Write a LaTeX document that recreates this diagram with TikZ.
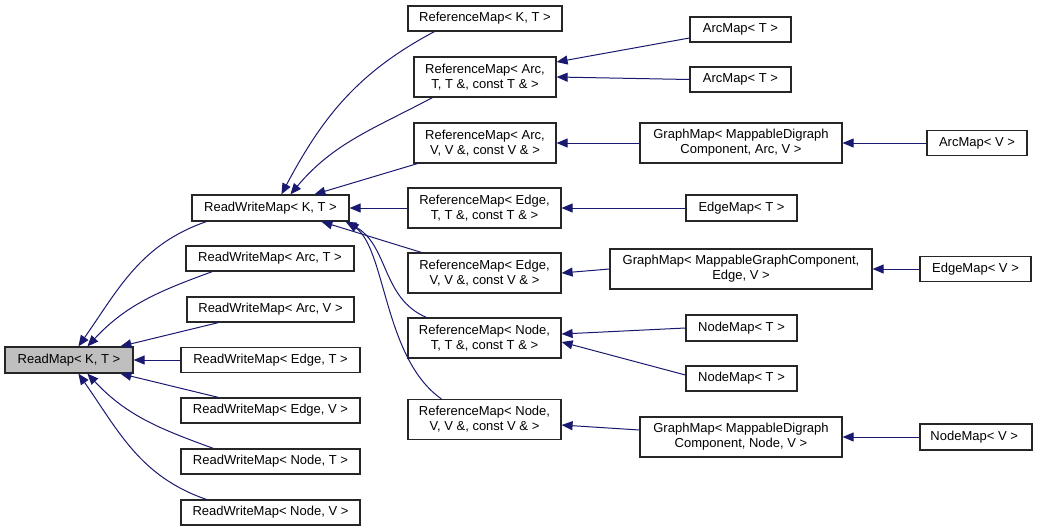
\documentclass[tikz,border=0pt]{standalone}
\usepackage{fontspec}
\setmainfont{Liberation Sans}
\usepackage{tikz}
\usetikzlibrary{arrows.meta,positioning,calc}
\definecolor{edgeBlue}{HTML}{191970}
\definecolor{boxGray}{HTML}{BFBFBF}

\tikzset{
  cls/.style={draw=black!85, line width=1.2pt, align=center, inner sep=1pt,
    font=\fontsize{13}{15}\selectfont},
  inh/.style={draw=edgeBlue, line width=1pt, -{Triangle[length=11pt,width=9pt]}}
}

\begin{document}
\begin{tikzpicture}[x=1pt,y=1pt]

      \useasboundingbox (0,0) rectangle (1037,-531);

      % name / x / y / width / height / text
      \def\classes{
        rwkt/270.5/208/157/26/{ReadWriteMap< K, T >},
        rwat/270/258.5/168/25/{ReadWriteMap< Arc, T >},
        rwav/270.5/309.5/167/25/{ReadWriteMap< Arc, V >},
        rwet/270.5/360/179/25/{ReadWriteMap< Edge, T >},
        rwev/270.5/410.5/179/25/{ReadWriteMap< Edge, V >},
        rwnt/270.5/461.5/179/25/{ReadWriteMap< Node, T >},
        rwnv/270.5/512.5/179/25/{ReadWriteMap< Node, V >},
        refkt/485/18.5/154/25/{ReferenceMap< K, T >},
        refat/485/77/142/40/{ReferenceMap< Arc,\\ T, T \&, const T \& >},
        refav/485/143/142/40/{ReferenceMap< Arc,\\ V, V \&, const V \& >},
        refet/484.5/208/153/40/{ReferenceMap< Edge,\\ T, T \&, const T \& >},
        refev/484.5/273/153/40/{ReferenceMap< Edge,\\ V, V \&, const V \& >},
        refnt/484.5/338/153/40/{ReferenceMap< Node,\\ T, T \&, const T \& >},
        refnv/484.5/419.5/153/40/{ReferenceMap< Node,\\ V, V \&, const V \& >},
        arcta/740.5/29.5/101/25/{ArcMap< T >},
        arctb/740.5/79.5/101/25/{ArcMap< T >},
        gmarc/741/143/202/40/{GraphMap< MappableDigraph\\ Component, Arc, V >},
        edget/741.5/208/111/26/{EdgeMap< T >},
        gmedge/741/269/262/40/{GraphMap< MappableGraphComponent,\\ Edge, V >},
        nodeta/741.5/328/111/26/{NodeMap< T >},
        nodetb/741.5/378.5/111/25/{NodeMap< T >},
        gmnode/741/437/202/40/{GraphMap< MappableDigraph\\ Component, Node, V >},
        arcv/977/143/100/25/{ArcMap< V >},
        edgev/975.5/269/111/25/{EdgeMap< V >},
        nodev/976/437/112/26/{NodeMap< V >}
      }

      % draw the base class
      \node[cls, fill=boxGray, minimum width=128pt, minimum height=26pt] (rmap) at (69,-360) {ReadMap< K, T >};

      % draw the derived classes
      \foreach \nm/\cx/\cy/\bw/\bh/\txt in \classes
        \node[cls, minimum width=\bw pt, minimum height=\bh pt] (\nm) at (\cx,-\cy) {\txt};

      % straight links, child west to parent east
      \foreach \a/\b in {rwet/rmap, refet/rwkt, gmarc/refav, arcv/gmarc, edget/refet,
                         gmedge/refev, edgev/gmedge, nodev/gmnode, arctb/refat}
        \draw[inh] (\a.west) -- (\b.east);

      \draw[inh] ([yshift=-8.5pt]arcta.west) -- ([yshift=15pt]refat.east);
      \draw[inh] (nodeta.west) -- ([yshift=4pt]refnt.east);
      \draw[inh] ([yshift=3.5pt]nodetb.west) -- ([yshift=-4pt]refnt.east);
      \draw[inh] ([yshift=7pt]gmnode.west) -- ([yshift=-5.5pt]refnv.east);

      % links into ReadMap
      \draw[inh] ([xshift=15pt]rwkt.south west) to[out=199,in=55] ([xshift=74pt]rmap.north west);
      \draw[inh] ([xshift=27pt]rwat.south west) to[out=200,in=47] ([xshift=83pt]rmap.north west);
      \draw[inh] ([xshift=32pt]rwav.south west) -- ([xshift=116pt]rmap.north west);
      \draw[inh] ([xshift=38pt]rwev.north west) -- ([xshift=116pt]rmap.south west);
      \draw[inh] ([xshift=33pt]rwnt.north west) to[out=160,in=-47] ([xshift=83pt]rmap.south west);
      \draw[inh] ([xshift=26pt]rwnv.north west) to[out=161,in=-55] ([xshift=74pt]rmap.south west);

      % links into ReadWriteMap< K, T >
      \draw[inh] ([xshift=27pt]refkt.south west) to[out=208,in=62] ([xshift=90pt]rwkt.north west);
      \draw[inh] ([xshift=19pt]refat.south west) to[out=208,in=50] ([xshift=99pt]rwkt.north west);
      \draw[inh] ([xshift=4pt]refav.south west) -- ([xshift=123pt]rwkt.north west);
      \draw[inh] ([xshift=14pt]refev.north west) -- ([xshift=130pt]rwkt.south west);
      \draw[inh] ([xshift=19pt]refnt.north west) to[out=157,in=-28] ([xshift=-4pt]rwkt.south east);
      \draw[inh] ([xshift=34pt]refnv.north west) to[out=145,in=-37,out distance=70pt,in distance=48pt] ([xshift=-2pt]rwkt.south east);

\end{tikzpicture}
\end{document}
